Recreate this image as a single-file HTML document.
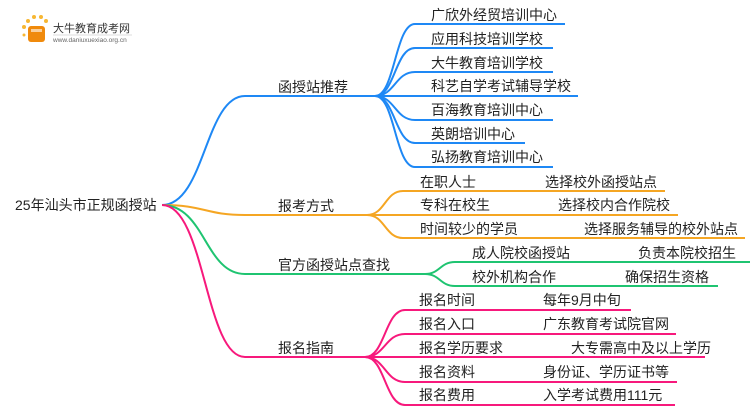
<!DOCTYPE html>
<html><head><meta charset="utf-8"><style>
html,body{margin:0;padding:0;background:#fff;width:750px;height:410px;overflow:hidden}
svg text{font-family:"Liberation Sans","Noto Sans CJK SC",sans-serif;font-size:14px;fill:#222}
</style></head><body>
<svg width="750" height="410" xmlns="http://www.w3.org/2000/svg">
<g>
<circle cx="24" cy="27" r="2" fill="#f7b733"/><circle cx="28" cy="21" r="2" fill="#f7b733"/><circle cx="34" cy="17" r="2" fill="#f7b733"/><circle cx="41" cy="17" r="2" fill="#f7b733"/><circle cx="46" cy="21" r="2" fill="#f7b733"/><circle cx="24" cy="35" r="1.5" fill="#f7b733"/>
<rect x="28" y="26" width="17" height="16" rx="3" fill="#f08a0c"/>
<rect x="31" y="29" width="11" height="3" fill="#fff" opacity="0.6"/>
<text x="53" y="32" style="font-size:11px;fill:#333">大牛教育成考网</text>
<line x1="53" y1="35" x2="132" y2="35" stroke="#ddd" stroke-width="1"/>
<text x="53" y="42" style="font-size:6.5px;fill:#666">www.daniuxuexiao.org.cn</text>
</g>
<g fill="none" stroke-width="2">
<path d="M162,205 C205,205 205,96 245,96 L375,96" stroke="#1e88f5"/>
<path d="M162,205 C205,205 205,215 245,215 L367,215" stroke="#f5a623"/>
<path d="M162,205 C205,205 205,274 245,274 L425,274" stroke="#1fc471"/>
<path d="M162,205 C205,205 205,357 245,357 L365,357" stroke="#f7197c"/>
<g stroke="#1e88f5">
<path d="M375,96 C395,96 395,24 415,24 L565,24"/>
<path d="M375,96 C395,96 395,48 415,48 L553,48"/>
<path d="M375,96 C395,96 395,72 415,72 L553,72"/>
<path d="M375,96 L578,96"/>
<path d="M375,96 C395,96 395,120 415,120 L553,120"/>
<path d="M375,96 C395,96 395,143 415,143 L525,143"/>
<path d="M375,96 C395,96 395,167 415,167 L553,167"/>
</g>
<g stroke="#f5a623">
<path d="M367,215 C385,215 385,191 403,191 L665,191"/>
<path d="M367,215 L678,215"/>
<path d="M367,215 C385,215 385,238 403,238 L745,238"/>
</g>
<g stroke="#1fc471">
<path d="M425,274 C440,274 440,262 455,262 L750,262"/>
<path d="M425,274 C440,274 440,286 455,286 L718,286"/>
</g>
<g stroke="#f7197c">
<path d="M365,357 C385,357 385,310 405,310 L631,310"/>
<path d="M365,357 C385,357 385,334 405,334 L676,334"/>
<path d="M365,357 L705,357"/>
<path d="M365,357 C385,357 385,382 405,382 L677,382"/>
<path d="M365,357 C385,357 385,405 405,405 L675,405"/>
</g>
</g>
<text x="15" y="210" style="font-size:14px">25年汕头市正规函授站</text>
<text x="278" y="92">函授站推荐</text>
<text x="278" y="211">报考方式</text>
<text x="278" y="270">官方函授站点查找</text>
<text x="278" y="353">报名指南</text>
<text x="431" y="20">广欣外经贸培训中心</text>
<text x="431" y="44">应用科技培训学校</text>
<text x="431" y="68">大牛教育培训学校</text>
<text x="431" y="91">科艺自学考试辅导学校</text>
<text x="431" y="115">百海教育培训中心</text>
<text x="431" y="139">英朗培训中心</text>
<text x="431" y="162">弘扬教育培训中心</text>
<text x="420" y="187">在职人士</text>
<text x="545" y="187">选择校外函授站点</text>
<text x="420" y="210">专科在校生</text>
<text x="558" y="210">选择校内合作院校</text>
<text x="420" y="234">时间较少的学员</text>
<text x="584" y="234">选择服务辅导的校外站点</text>
<text x="472" y="258">成人院校函授站</text>
<text x="638" y="258">负责本院校招生</text>
<text x="472" y="282">校外机构合作</text>
<text x="625" y="282">确保招生资格</text>
<text x="419" y="305">报名时间</text>
<text x="543" y="305">每年9月中旬</text>
<text x="419" y="329">报名入口</text>
<text x="543" y="329">广东教育考试院官网</text>
<text x="419" y="353">报名学历要求</text>
<text x="571" y="353">大专需高中及以上学历</text>
<text x="419" y="377">报名资料</text>
<text x="543" y="377">身份证、学历证书等</text>
<text x="419" y="400">报名费用</text>
<text x="543" y="400">入学考试费用111元</text>
</svg>
</body></html>
